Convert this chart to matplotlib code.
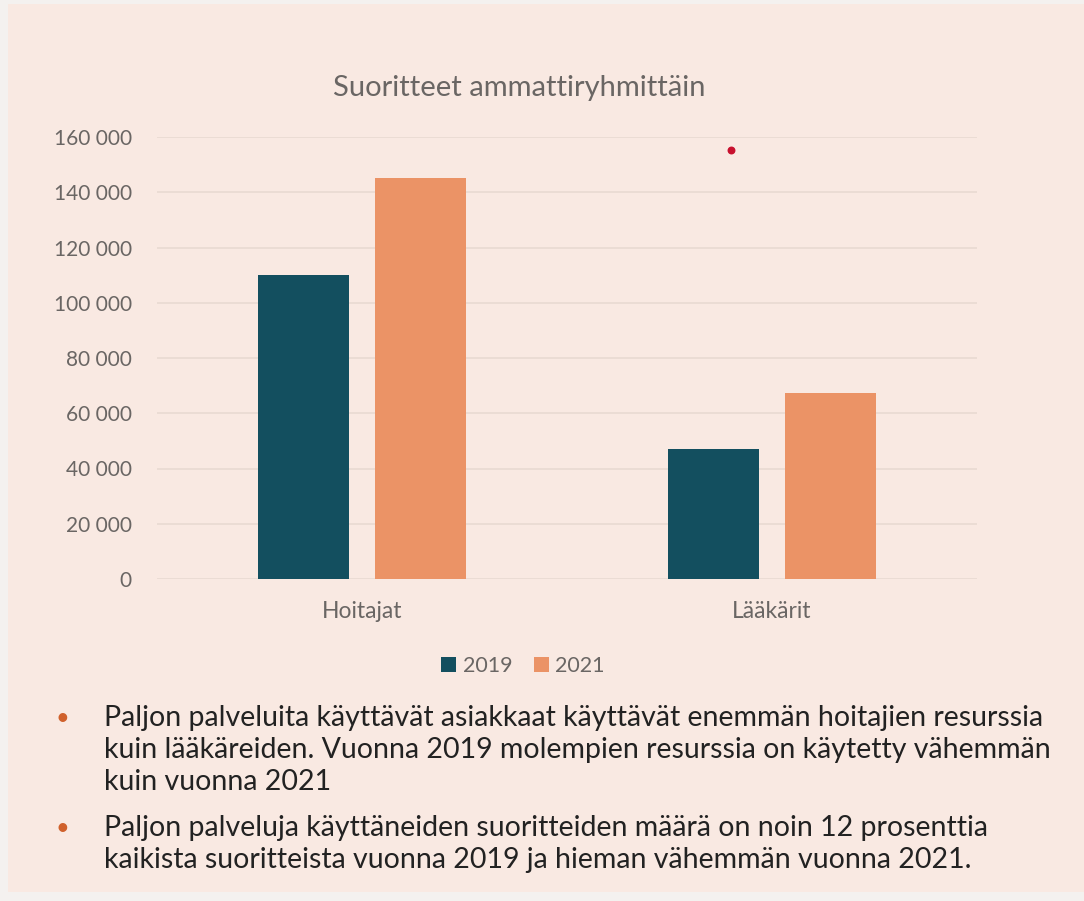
import matplotlib.pyplot as plt
from matplotlib.patches import Rectangle
from matplotlib.ticker import FuncFormatter, MultipleLocator
import numpy as np

# Suoritteet ammattiryhmittäin, 2019 vs 2021
ryhmat = ["Hoitajat", "Lääkärit"]
vuodet = ["2019", "2021"]
suoritteet_2019 = [110000, 47000]
suoritteet_2021 = [145000, 67500]

# pieni punainen piste kaavion yläreunassa
piste_x = [0.9]
piste_y = [155200]

otsikko = "Suoritteet ammattiryhmittäin"
huomiot = [
    "Paljon palveluita käyttävät asiakkaat käyttävät enemmän hoitajien resurssia\n"
    "kuin lääkäreiden. Vuonna 2019 molempien resurssia on käytetty vähemmän\n"
    "kuin vuonna 2021",
    "Paljon palveluja käyttäneiden suoritteiden määrä on noin 12 prosenttia\n"
    "kaikista suoritteista vuonna 2019 ja hieman vähemmän vuonna 2021.",
]

plt.rcParams['font.family'] = ['Lato', 'DejaVu Sans']

tausta = "#f9e9e2"
sininen = "#134f5f"
oranssi = "#eb9366"
harmaa = "#6a6664"

fig = plt.figure(figsize=(10.84, 9.01), dpi=100)
fig.patch.set_facecolor("#f4f1ef")
fig.add_artist(Rectangle((8 / 1084, 1 - 892 / 901), 1 - 8 / 1084, (892 - 4) / 901,
                         transform=fig.transFigure, facecolor=tausta,
                         edgecolor="none", zorder=-10))

ax = fig.add_axes([157 / 1084, 1 - 579 / 901, (977 - 157) / 1084, (579 - 137) / 901])
ax.set_facecolor("none")

x = np.arange(len(ryhmat))
leveys = 0.222
siirto = 0.142
ax.bar(x - siirto, suoritteet_2019, leveys, color=sininen, label=vuodet[0], zorder=3)
ax.bar(x + siirto, suoritteet_2021, leveys, color=oranssi, label=vuodet[1], zorder=3)
ax.scatter(piste_x, piste_y, s=22, color="#c8102e", zorder=4, clip_on=False)

ax.set_xlim(-0.5, 1.5)
ax.set_ylim(0, 160000)
ax.yaxis.set_major_locator(MultipleLocator(20000))
ax.yaxis.set_major_formatter(FuncFormatter(lambda v, p: f"{int(v):,}".replace(",", " ")))
ax.grid(axis="y", color="#eadbd3", linewidth=1.3, zorder=0)
for s in ax.spines.values():
    s.set_visible(False)
ax.tick_params(axis="both", length=0, colors=harmaa)
ax.tick_params(axis="y", pad=18, labelsize=15)
ax.tick_params(axis="x", pad=16, labelsize=16.5)
ax.set_xticks(x)
ax.set_xticklabels(ryhmat)

fig.text(519 / 1084, 1 - 88 / 901, otsikko, ha="center", va="center",
         fontsize=21, color=harmaa)

fig.legend(loc="center", bbox_to_anchor=(523 / 1084, 1 - 666 / 901), ncol=2,
           frameon=False, handlelength=0.7, handleheight=0.7, handletextpad=0.3,
           columnspacing=1.0, fontsize=15.5, labelcolor=harmaa)

rivit_y = [705, 815]
for teksti, y0 in zip(huomiot, rivit_y):
    fig.text(62 / 1084, 1 - (y0 + 13) / 901, "•", ha="center", va="center",
             fontsize=17, color="#d0612c")
    fig.text(104 / 1084, 1 - y0 / 901, teksti, ha="left", va="top",
             fontsize=20.5, color="#222222", linespacing=1.28)

fig.savefig("out.png", dpi=100, facecolor=fig.get_facecolor())
